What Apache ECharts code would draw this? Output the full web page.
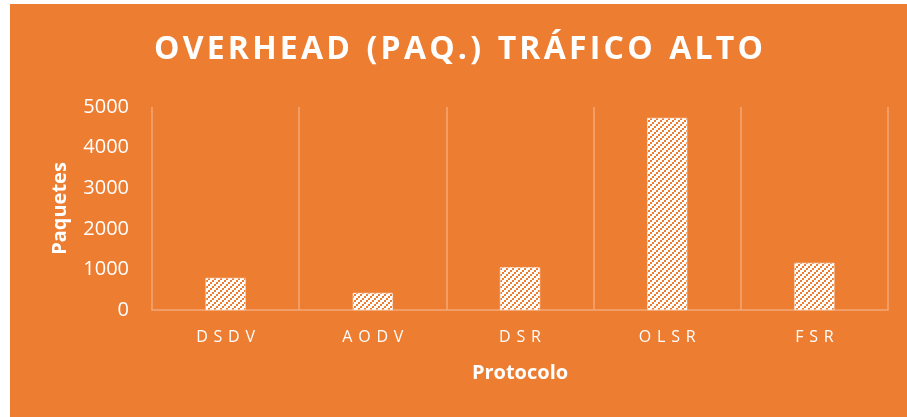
<!DOCTYPE html>
<html>
<head>
<meta charset="utf-8">
<script src="https://cdn.jsdelivr.net/npm/echarts@6/dist/echarts.min.js"></script>
<style>
  html, body { margin: 0; padding: 0; background: #fff; }
  #chart { position: absolute; left: 10px; top: 4px; width: 897px; height: 413px; }
</style>
</head>
<body>
<div id="chart"></div>
<script>
const categories = ['DSDV', 'AODV', 'DSR', 'OLSR', 'FSR']
const paquetes = [790, 420, 1050, 4730, 1160]
const yTicks = [0, 1000, 2000, 3000, 4000, 5000]

const ORANGE = '#ED7D31'

// trama de rayas diagonales (blanco con puntos naranjas)
function hatch() {
  const c = document.createElement('canvas')
  c.width = 6
  c.height = 6
  const ctx = c.getContext('2d')
  ctx.fillStyle = '#ffffff'
  ctx.fillRect(0, 0, 6, 6)
  ctx.fillStyle = ORANGE
  for (let i = 0; i < 6; i += 2) {
    ctx.fillRect(i, 4 - i < 0 ? 4 - i + 6 : 4 - i, 2, 2)
  }
  return c
}

// separa las letras como en el original
const spaced = (s, sep) => s.split('').join(sep)

const chart = echarts.init(document.getElementById('chart'))
chart.setOption({
  backgroundColor: ORANGE,
  animation: false,
  title: {
    text: 'OVERHEAD (PAQ.) TRÁFICO ALTO'.split(' ').map(w => spaced(w, '\u200A')).join('  '),
    left: 'center',
    top: 25,
    textStyle: {
      color: '#fff',
      fontFamily: 'Open Sans',
      fontWeight: 'bold',
      fontSize: 32
    }
  },
  grid: { left: 142, right: 19, top: 103, bottom: 107 },
  xAxis: {
    type: 'category',
    data: categories,
    name: 'Protocolo',
    nameLocation: 'middle',
    nameGap: 53,
    nameTextStyle: { color: '#fff', fontFamily: 'Open Sans', fontWeight: 'bold', fontSize: 20 },
    axisLine: { lineStyle: { color: '#F4A877', width: 1.5 } },
    axisTick: { show: false },
    axisLabel: {
      color: '#fff',
      fontFamily: 'Open Sans',
      fontSize: 16,
      margin: 19,
      formatter: v => spaced(v, ' \u200A')
    },
    splitLine: { show: true, lineStyle: { color: '#F4A877', width: 1.5 } }
  },
  yAxis: {
    type: 'value',
    min: yTicks[0],
    max: yTicks[yTicks.length - 1],
    interval: 1000,
    name: 'Paquetes',
    nameLocation: 'middle',
    nameGap: 82,
    nameTextStyle: { color: '#fff', fontFamily: 'Open Sans', fontWeight: 'bold', fontSize: 20 },
    axisLine: { show: false },
    axisTick: { show: false },
    axisLabel: { color: '#fff', fontFamily: 'Open Sans', fontSize: 20, margin: 23, formatter: v => String(v) },
    splitLine: { show: false }
  },
  series: [{
    name: 'Paquetes',
    type: 'bar',
    data: paquetes,
    barWidth: 40,
    itemStyle: {
      color: { image: hatch(), repeat: 'repeat' },
      borderColor: '#fff',
      borderWidth: 0.5
    }
  }]
})
</script>
</body>
</html>
